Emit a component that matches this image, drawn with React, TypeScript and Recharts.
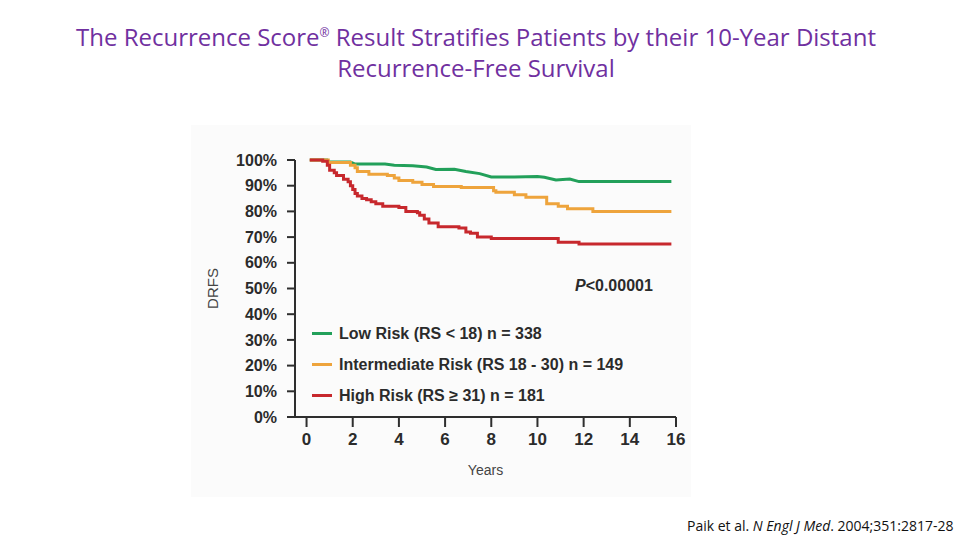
import { Line, LineChart, XAxis, YAxis } from 'recharts'

// Kaplan-Meier readings (years, % distant recurrence-free)
const lowYears = [0.14, 0.9, 1.0, 1.9, 2.1, 3.4, 3.8, 4.6, 5.2, 5.6, 6.4, 6.9, 7.5, 8.0, 9.0, 10.0, 10.3, 10.8, 11.4, 11.8, 15.8]
const lowDrfs = [100, 100, 99.2, 99.2, 98.4, 98.4, 98.0, 97.8, 97.3, 96.3, 96.4, 95.5, 94.7, 93.4, 93.4, 93.6, 93.3, 92.2, 92.6, 91.6, 91.6]

const intYears = [0.14, 0.94, 1.9, 2.1, 2.2, 2.7, 3.5, 3.8, 4.0, 4.6, 5.0, 5.5, 6.7, 8.1, 8.2, 9.0, 9.5, 10.4, 10.9, 11.3, 12.4, 15.8]
const intDrfs = [100, 99, 98, 97, 95.5, 94.5, 94, 93, 92, 91.3, 90.5, 89.7, 89.3, 88, 87.5, 86.5, 85.5, 83, 82, 81, 80, 80]

const highYears = [0.14, 0.7, 0.9, 1.0, 1.2, 1.3, 1.6, 1.8, 1.9, 2.0, 2.1, 2.2, 2.4, 2.6, 2.8, 3.0, 3.3, 4.0, 4.3, 4.8, 4.9, 5.1, 5.3, 5.7, 6.6, 6.9, 7.1, 7.4, 8.0, 10.9, 11.8, 15.8]
const highDrfs = [100, 99.5, 98, 96, 95, 94, 92.5, 91.5, 90, 88.5, 87, 86, 85, 84.5, 83.8, 83, 82, 81.5, 80, 79.5, 78.5, 77, 75.5, 74, 73.5, 72, 71.5, 70, 69.5, 68, 67.3, 67.3]

const xTicks = [0, 2, 4, 6, 8, 10, 12, 14, 16]
const yTicks = [0, 10, 20, 30, 40, 50, 60, 70, 80, 90, 100]

const seriesNames = ['Low Risk (RS < 18) n = 338', 'Intermediate Risk (RS 18 - 30) n = 149', 'High Risk (RS \u2265 31) n = 181']
const seriesColors = ['#22a05a', '#eea43c', '#c7282d']

const toPoints = (xs: number[], ys: number[]) => xs.map((t, i) => ({ t, v: ys[i] }))

const series = [
  { name: seriesNames[0], color: seriesColors[0], data: toPoints(lowYears, lowDrfs), type: 'linear' as const },
  { name: seriesNames[1], color: seriesColors[1], data: toPoints(intYears, intDrfs), type: 'stepAfter' as const },
  { name: seriesNames[2], color: seriesColors[2], data: toPoints(highYears, highDrfs), type: 'stepAfter' as const },
]

const axisColor = '#2e2e2e'
const font = '"Liberation Sans", Arial, sans-serif'

function RiskLegend() {
  return (
    <div
      style={{
        position: 'absolute',
        left: 121,
        top: 193,
        fontFamily: font,
        fontWeight: 700,
        fontSize: 16,
        color: '#2b2b2b',
        whiteSpace: 'nowrap',
      }}
    >
      {series.map((s) => (
        <div key={s.name} style={{ display: 'flex', alignItems: 'center', height: 31 }}>
          <div style={{ width: 20, height: 3, background: s.color, marginRight: 7 }} />
          <span>{s.name}</span>
        </div>
      ))}
    </div>
  )
}

export default function App() {
  return (
    <div style={{ position: 'absolute', left: 0, top: 0, width: 960, height: 540, overflow: 'hidden', background: '#fff' }}>
      <div
        style={{
          position: 'absolute',
          left: 0,
          top: 21,
          width: 952,
          textAlign: 'center',
          color: '#7030a0',
          fontFamily: '"Open Sans", sans-serif',
          fontSize: 24,
          lineHeight: '31px',
        }}
      >
        The Recurrence Score<sup style={{ fontSize: 12, lineHeight: 0 }}>®</sup> Result Stratifies Patients by their 10-Year Distant
        <br />
        Recurrence-Free Survival
      </div>

      <div style={{ position: 'absolute', left: 191, top: 125, width: 500, height: 372, background: '#fbfbfb' }}>
        <LineChart width={500} height={372} margin={{ top: 35, right: 15, bottom: 20, left: 0 }}>
          <XAxis
            type="number"
            dataKey="t"
            domain={[-0.5, 16]}
            ticks={xTicks}
            allowDuplicatedCategory={false}
            height={60}
            tickSize={10}
            tickMargin={6}
            stroke={axisColor}
            strokeWidth={2}
            tick={{ fill: '#2b2b2b', fontSize: 17, fontWeight: 700, fontFamily: font }}
            label={{ value: 'Years', position: 'insideBottom', offset: 2, fill: '#444', fontSize: 14, fontFamily: font }}
          />
          <YAxis
            type="number"
            domain={[0, 100]}
            ticks={yTicks}
            width={104}
            tickSize={8}
            tickMargin={10}
            stroke={axisColor}
            strokeWidth={2}
            tickFormatter={(v: number) => `${v}%`}
            tick={{ fill: '#2b2b2b', fontSize: 16, fontWeight: 700, fontFamily: font }}
            label={{
              value: 'DRFS',
              angle: -90,
              position: 'insideLeft',
              offset: 22,
              fill: '#444',
              fontSize: 15,
              fontFamily: font,
              style: { textAnchor: 'middle' },
            }}
          />
          {series.map((s) => (
            <Line
              key={s.name}
              data={s.data}
              dataKey="v"
              name={s.name}
              type={s.type}
              stroke={s.color}
              strokeWidth={3}
              dot={false}
              activeDot={false}
              isAnimationActive={false}
            />
          ))}
        </LineChart>
        <RiskLegend />
        <div
          style={{
            position: 'absolute',
            left: 384,
            top: 152,
            fontFamily: font,
            fontWeight: 700,
            fontSize: 16,
            color: '#2b2b2b',
          }}
        >
          <i>P</i>&lt;0.00001
        </div>
      </div>

      <div
        style={{
          position: 'absolute',
          left: 687,
          top: 516,
          whiteSpace: 'nowrap',
          fontFamily: '"Open Sans", sans-serif',
          fontSize: 14,
          color: '#111',
        }}
      >
        Paik et al. <i>N Engl J Med</i>. 2004;351:2817-28
      </div>
    </div>
  )
}
